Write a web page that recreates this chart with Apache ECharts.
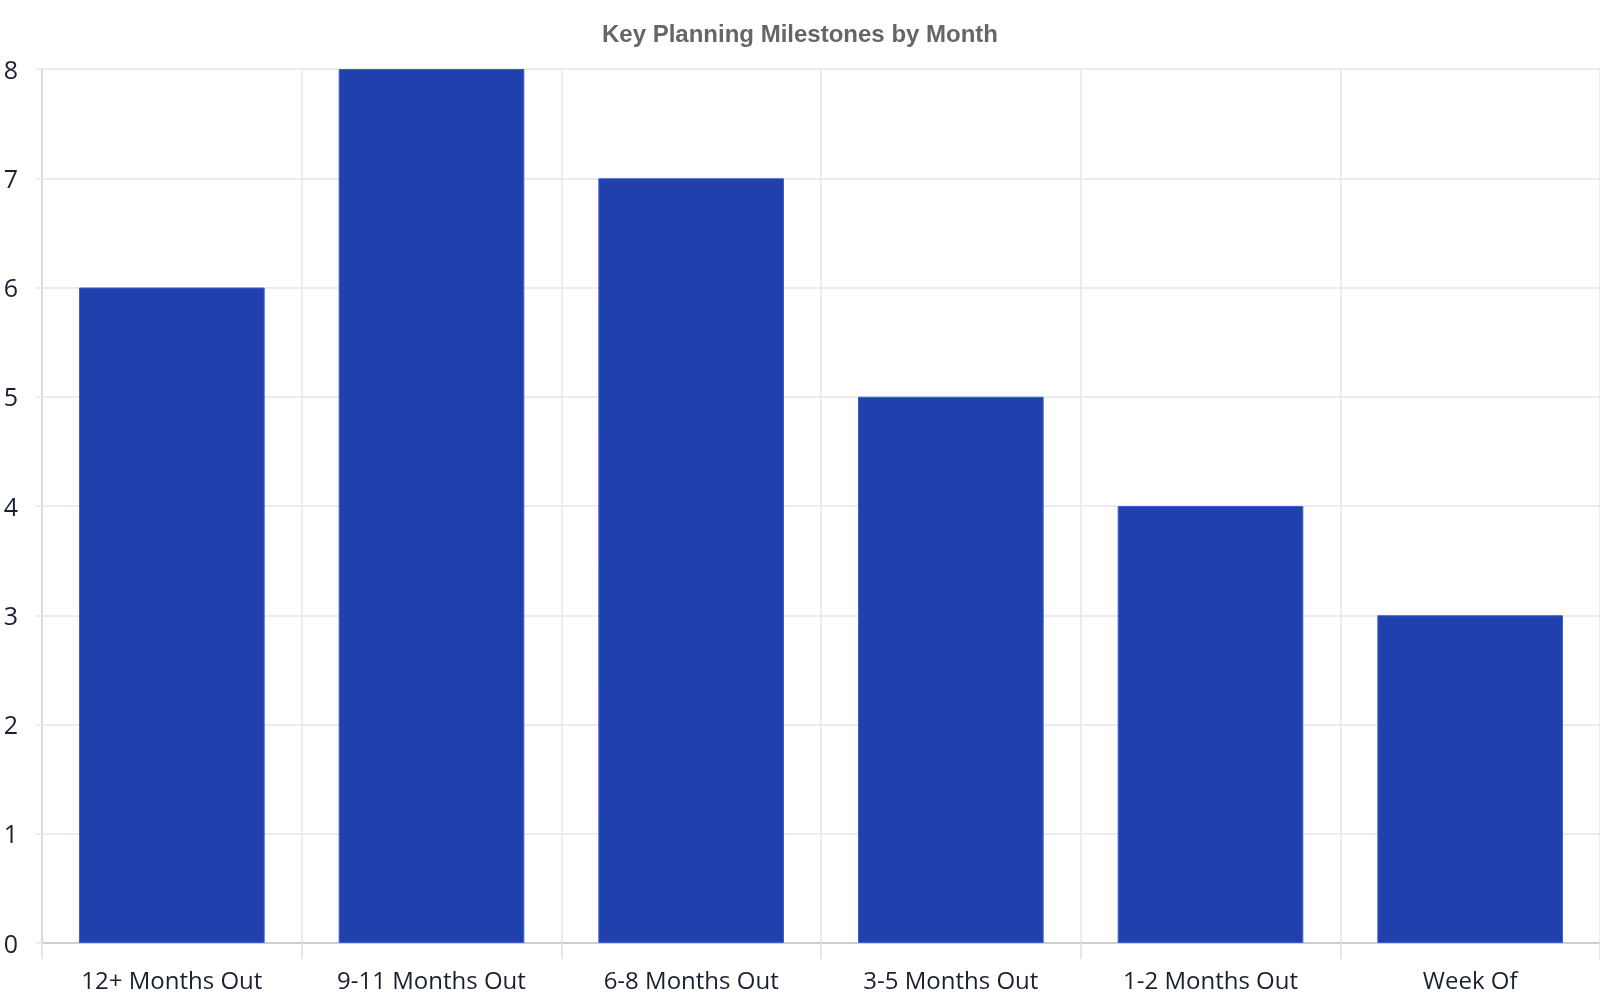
<!DOCTYPE html>
<html><head><meta charset="utf-8">
<script src="https://cdn.jsdelivr.net/npm/echarts@6/dist/echarts.min.js"></script>
<style>html,body{margin:0;padding:0;background:#fff}#c{width:1600px;height:1000px}</style>
</head><body><div id="c"></div>
<script>
const categories = ["12+ Months Out", "9-11 Months Out", "6-8 Months Out", "3-5 Months Out", "1-2 Months Out", "Week Of"];
const milestones = [6, 8, 7, 5, 4, 3];
const yTicks = [0, 1, 2, 3, 4, 5, 6, 7, 8];

const chart = echarts.init(document.getElementById('c'));
chart.setOption({
  backgroundColor: '#fff',
  animation: false,
  title: {
    text: 'Key Planning Milestones by Month',
    left: 'center', top: 23, padding: 0,
    textStyle: { fontFamily: 'Liberation Sans, Arial, sans-serif', fontSize: 24, fontWeight: 'bold', color: '#666666' }
  },
  grid: { left: 42, right: 0, top: 69, bottom: 57, containLabel: false },
  xAxis: {
    type: 'category',
    data: categories,
    boundaryGap: true,
    axisLine: { show: true, lineStyle: { color: '#cfcfcf', width: 2 } },
    axisTick: { show: true, alignWithLabel: false, length: 16, lineStyle: { color: '#e6e6e6', width: 2 } },
    splitLine: { show: true, lineStyle: { color: '#ececec', width: 2 } },
    axisLabel: { margin: 27, fontFamily: 'Open Sans, sans-serif', fontSize: 24, color: '#1a2030' }
  },
  yAxis: {
    type: 'value',
    min: yTicks[0], max: yTicks[yTicks.length - 1], interval: 1,
    axisLine: { show: true, lineStyle: { color: '#dcdcdc', width: 2 } },
    axisTick: { show: true, length: 6, lineStyle: { color: '#ececec', width: 2 } },
    splitLine: { show: true, lineStyle: { color: '#ececec', width: 2 } },
    axisLabel: {
      margin: 24,
      formatter: '{v|{value}}',
      rich: { v: { padding: [5, 0, 0, 0], fontFamily: 'Open Sans, sans-serif', fontSize: 25, color: '#1a2030' } }
    }
  },
  series: [{
    type: 'bar',
    data: milestones,
    barCategoryGap: '28.5%',
    itemStyle: { color: '#1f40ad', borderColor: '#3d5fd3', borderWidth: 1 }
  }]
});
</script></body></html>
